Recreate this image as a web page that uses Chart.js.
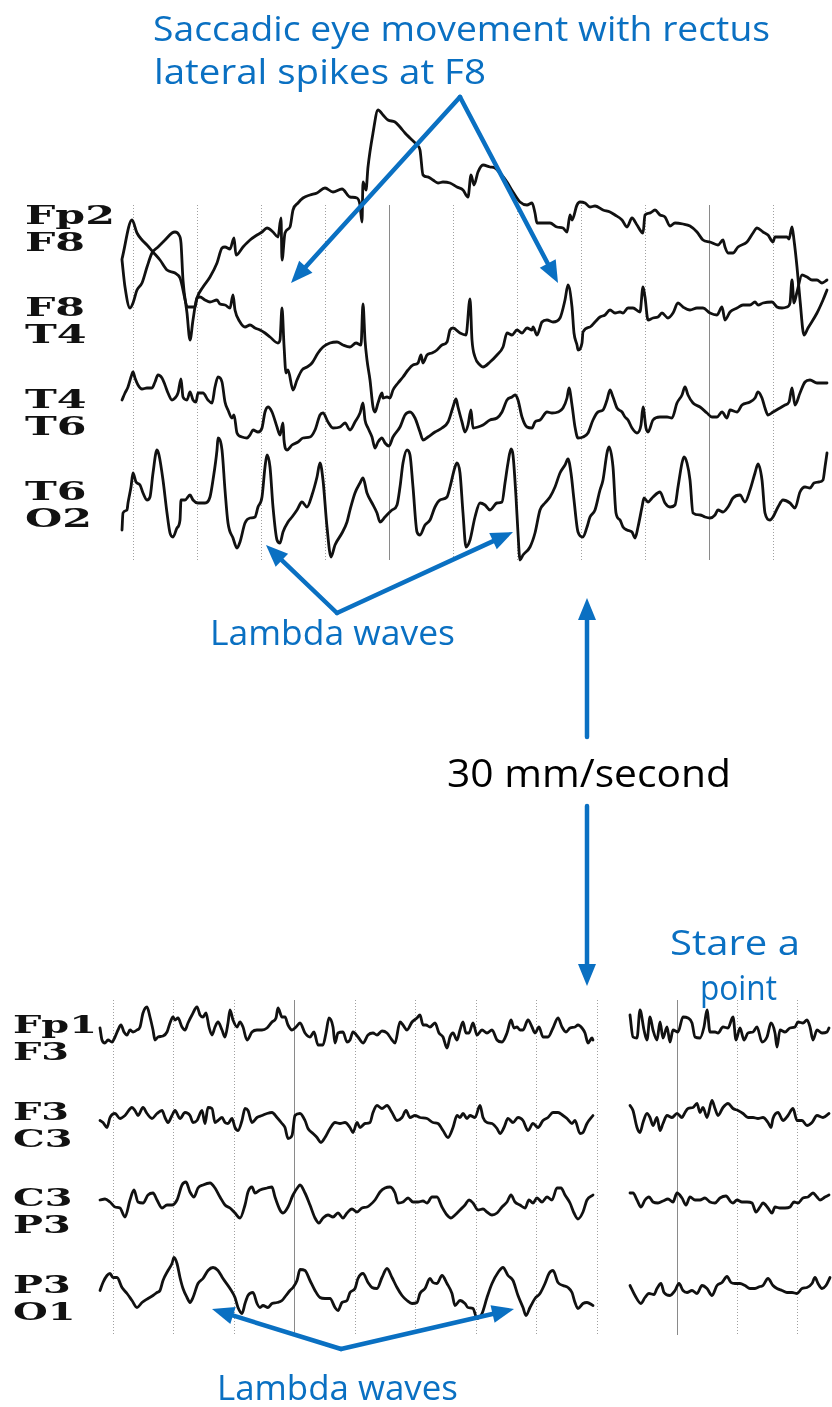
<!DOCTYPE html>
<html>
<head>
<meta charset="utf-8">
<script src="https://cdn.jsdelivr.net/npm/chart.js@4"></script>
<style>
  html, body { margin: 0; background: #fff; }
  #page { position: relative; width: 832px; height: 1407px; overflow: hidden; }
  canvas { position: absolute; }
  #upper { left: 0; top: 95px; }
  #lowerA { left: 0; top: 990px; }
  #lowerB { left: 600px; top: 990px; }
  #notes { position: absolute; left: 0; top: 0; }
</style>
</head>
<body>
<div id="page">
  <canvas id="upper" width="832" height="480"></canvas>
  <canvas id="lowerA" width="600" height="350"></canvas>
  <canvas id="lowerB" width="232" height="350"></canvas>
  <svg id="notes" width="832" height="1407" font-family="'Open Sans', sans-serif">
    <g fill="#0a70c2" font-size="34">
      <text x="153" y="41" textLength="617" lengthAdjust="spacingAndGlyphs">Saccadic eye movement with rectus</text>
      <text x="154" y="84" textLength="332" lengthAdjust="spacingAndGlyphs">lateral spikes at F8</text>
      <text x="210" y="645" textLength="245" lengthAdjust="spacingAndGlyphs">Lambda waves</text>
      <text x="670" y="955" textLength="130" lengthAdjust="spacingAndGlyphs">Stare a</text>
      <text x="700" y="1000" textLength="77" lengthAdjust="spacingAndGlyphs">point</text>
      <text x="217" y="1400" textLength="241" lengthAdjust="spacingAndGlyphs">Lambda waves</text>
    </g>
    <text x="447" y="787" font-size="38" fill="#000" textLength="284" lengthAdjust="spacingAndGlyphs">30 mm/second</text>
    <g id="arrows" fill="#0a70c2" stroke="#0a70c2"></g>
  </svg>
</div>
<script>
// channel names, two electrodes per bipolar derivation
const upperChannels = [["Fp2", "F8"], ["F8", "T4"], ["T4", "T6"], ["T6", "O2"]];
const lowerChannels = [["Fp1", "F3"], ["F3", "C3"], ["C3", "P3"], ["P3", "O1"]];

// traces are [sample, µV] pairs
const UPPER_RATE = 64;   // samples per second, upper page
const LOWER_RATE = 60.5; // lower page, free viewing
const STARE_RATE = 60;   // lower page, staring at a point

// upper page: saccades
const fp2F8 = [[2,-31],[12,8],[17,-5],[22,-12],[27,-17],[33,-24],[40,-32],[47,-42],[55,-45],[60,-50],[68,-79],[75,-79],[77,-70],[83,-59],[90,-49],[97,-35],[102,-20],[105,-19],[110,-21],[114,-10],[116,-27],[123,-19],[130,-12],[137,-7],[142,-4],[147,0],[153,-4],[158,-9],[161,10],[162,-32],[165,-5],[170,1],[173,18],[178,25],[183,30],[190,33],[197,35],[205,40],[213,36],[222,39],[230,31],[237,30],[240,23],[242,6],[243,46],[246,38],[248,61],[253,95],[258,118],[263,113],[268,108],[275,106],[280,101],[285,95],[290,90],[297,83],[300,78],[303,53],[308,51],[313,48],[318,45],[323,46],[330,45],[337,41],[343,38],[348,31],[351,53],[354,43],[358,56],[363,63],[370,61],[375,60],[380,55],[387,46],[393,36],[400,26],[407,23],[412,25],[415,15],[417,5],[423,5],[430,5],[437,1],[443,0],[447,-4],[450,13],[452,8],[457,23],[460,26],[465,25],[470,21],[475,22],[483,18],[490,16],[495,13],[502,8],[507,1],[512,10],[517,3],[523,-5],[525,13],[530,15],[535,18],[540,13],[545,11],[550,2],[555,5],[563,4],[570,2],[577,-4],[583,-12],[590,-14],[598,-17],[603,-12],[605,-19],[608,-25],[613,-25],[618,-19],[627,-14],[633,-5],[637,0],[643,-4],[648,-7],[653,-14],[655,-9],[660,-9],[667,-9],[669,-11],[672,1],[674,-12],[677,-39],[680,-72],[684,-107],[688,-100],[697,-85],[703,-72],[707,-62]];
const f8T4 = [[2,60],[5,33],[10,12],[13,17],[17,30],[22,37],[27,53],[32,67],[38,73],[45,80],[52,87],[55,88],[59,85],[61,77],[63,40],[67,7],[70,-20],[73,0],[77,22],[80,23],[85,20],[90,18],[97,20],[100,16],[105,15],[110,12],[113,25],[115,10],[120,-2],[125,-7],[130,-5],[135,-8],[140,-10],[145,-13],[150,-17],[158,-23],[160,-20],[162,12],[164,-25],[166,-53],[168,-50],[173,-70],[177,-60],[182,-50],[187,-47],[192,-43],[198,-33],[203,-27],[210,-23],[217,-22],[223,-25],[230,-27],[236,-23],[241,-25],[243,16],[245,-20],[247,-40],[250,-60],[253,-87],[255,-92],[258,-83],[262,-73],[263,-78],[267,-77],[270,-78],[273,-70],[278,-63],[283,-57],[288,-50],[293,-45],[298,-43],[301,-35],[303,-43],[307,-35],[312,-33],[317,-30],[322,-25],[327,-22],[330,-10],[333,-8],[340,-13],[346,-15],[350,21],[352,-20],[355,-37],[360,-45],[363,-47],[370,-42],[377,-35],[383,-27],[387,-13],[392,-15],[397,-10],[402,-13],[407,-8],[412,-10],[413,-7],[417,-15],[422,-2],[427,0],[433,-2],[440,2],[445,20],[448,35],[452,13],[454,-13],[457,-25],[458,-30],[462,-23],[463,-12],[470,-7],[475,-2],[480,3],[485,5],[490,10],[495,7],[500,8],[503,7],[508,12],[513,12],[520,8],[523,33],[525,23],[528,0],[533,2],[538,3],[542,7],[548,2],[553,7],[558,17],[563,13],[570,10],[577,12],[583,12],[590,7],[597,5],[602,13],[605,0],[610,8],[617,12],[623,15],[630,15],[635,18],[638,15],[643,17],[652,18],[657,13],[662,12],[667,13],[670,17],[672,40],[674,17],[677,28],[682,45],[687,43],[692,40],[697,40],[702,37],[707,40]];
const t4T6 = [[2,12],[5,19],[8,25],[11,35],[13,40],[15,34],[18,27],[22,23],[27,24],[32,24],[35,30],[38,37],[42,34],[45,27],[48,19],[52,12],[55,14],[58,19],[61,33],[63,15],[67,12],[70,20],[73,12],[76,10],[78,19],[83,19],[88,12],[92,9],[95,25],[98,35],[102,30],[105,10],[108,2],[112,-6],[114,-3],[117,-21],[122,-25],[127,-26],[130,-23],[133,-18],[138,-20],[142,-16],[145,0],[148,5],[152,0],[157,-15],[160,-23],[163,-11],[164,-28],[167,-38],[172,-33],[178,-30],[183,-26],[190,-25],[195,-18],[200,-3],[203,-1],[208,-10],[213,-16],[220,-15],[225,-11],[230,-18],[235,-10],[240,-1],[243,9],[245,-8],[248,-16],[252,-25],[255,-36],[258,-30],[262,-26],[265,-31],[269,-34],[273,-25],[280,-15],[285,-3],[290,0],[295,-6],[300,-20],[303,-28],[308,-25],[315,-20],[322,-16],[328,-10],[333,5],[336,13],[338,5],[342,-10],[345,-20],[348,-13],[351,2],[353,-16],[358,-15],[363,-13],[370,-8],[377,-6],[382,0],[387,12],[392,15],[395,17],[398,12],[402,-5],[407,-15],[412,-16],[415,-10],[420,-8],[427,0],[432,-1],[438,0],[443,4],[447,14],[449,24],[452,7],[455,-15],[458,-26],[463,-25],[468,-21],[473,-8],[478,0],[483,2],[487,12],[490,22],[493,15],[497,4],[502,0],[505,-5],[508,-8],[512,-16],[517,-21],[521,-13],[523,5],[526,-16],[528,-20],[533,-8],[540,-5],[547,-5],[552,-6],[557,9],[562,17],[565,25],[568,17],[573,9],[580,5],[587,-1],[592,-5],[597,-5],[602,0],[607,-6],[610,2],[617,0],[622,7],[630,10],[635,14],[638,20],[642,14],[645,4],[648,-3],[653,0],[660,4],[665,7],[669,10],[672,24],[675,7],[680,19],[685,30],[690,32],[697,29],[703,29],[707,29]];
const t6O2 = [[2,-26],[3,-9],[7,-6],[8,1],[11,17],[13,31],[16,22],[20,19],[23,11],[27,4],[30,7],[33,31],[37,54],[39,49],[43,24],[47,-9],[50,-29],[53,-33],[57,-24],[60,-16],[61,4],[65,4],[70,9],[73,4],[78,1],[85,1],[90,7],[93,24],[97,54],[98,66],[102,54],[105,14],[108,-19],[113,-34],[117,-44],[120,-38],[125,-19],[130,-14],[135,-13],[138,-3],[142,7],[145,37],[147,49],[150,37],[153,-3],[157,-36],[160,-39],[163,-28],[168,-18],[172,-13],[177,-6],[182,2],[187,-3],[192,9],[197,27],[200,41],[203,24],[207,-23],[211,-53],[215,-41],[222,-29],[227,-18],[230,-6],[235,11],[240,21],[243,26],[247,11],[252,1],[257,-9],[260,-18],[265,-13],[272,-6],[277,-1],[280,17],[283,41],[287,54],[290,49],[293,17],[297,-28],[300,-31],[305,-21],[310,-16],[315,-3],[320,4],[327,7],[330,17],[335,37],[337,41],[340,31],[343,-9],[346,-43],[350,-36],[355,-13],[360,1],[365,-1],[370,-6],[377,1],[382,2],[385,21],[388,41],[391,55],[393,49],[396,7],[398,-29],[400,-56],[403,-51],[410,-43],[415,-29],[420,-6],[425,1],[430,7],[435,17],[440,31],[445,39],[448,45],[451,31],[454,4],[458,-28],[463,-33],[467,-23],[470,-13],[475,-6],[480,14],[483,24],[487,51],[489,57],[493,37],[496,-9],[500,-16],[503,-23],[507,-26],[512,-28],[515,-34],[518,-23],[522,-3],[524,6],[528,2],[533,7],[540,12],[545,1],[550,-3],[555,-1],[558,17],[562,41],[564,47],[567,41],[570,24],[573,-9],[580,-11],[585,-13],[590,-14],[595,-11],[598,-6],[603,-8],[608,-3],[613,6],[620,9],[625,2],[630,14],[635,31],[638,40],[642,24],[645,-9],[650,-16],[653,-13],[658,-3],[663,4],[670,1],[675,-4],[680,12],[685,17],[690,16],[694,21],[699,22],[703,24],[705,37],[707,51]];

// lower page, free viewing
const fp1F3 = [[0,10],[2,-2],[5,-5],[8,-2],[12,-4],[15,1],[18,8],[21,13],[24,6],[27,3],[30,8],[33,6],[37,8],[40,11],[43,25],[47,31],[50,21],[53,8],[55,-2],[58,1],[63,2],[67,6],[70,15],[73,21],[75,18],[78,20],[82,11],[85,8],[88,15],[92,23],[97,31],[100,23],[103,21],[106,25],[109,11],[112,3],[115,11],[118,16],[122,8],[125,1],[128,15],[130,28],[133,18],[137,11],[140,16],[143,11],[147,-2],[152,6],[157,8],[162,8],[167,10],[172,16],[176,20],[178,30],[182,21],[185,21],[188,13],[192,8],[196,11],[200,15],[205,5],[210,1],[214,6],[218,-7],[223,-7],[226,5],[229,20],[233,11],[235,-5],[238,5],[243,6],[247,-4],[250,-2],[253,6],[258,1],[263,-5],[268,3],[273,5],[277,3],[282,7],[287,5],[292,-2],[295,-5],[300,16],[303,13],[307,8],[312,16],[317,20],[320,23],[323,13],[326,13],[330,11],[335,15],[339,5],[343,1],[347,-10],[350,1],[353,5],[357,-2],[360,8],[363,16],[366,5],[369,5],[373,15],[377,3],[382,8],[387,5],[392,8],[397,-2],[402,-4],[407,5],[411,18],[414,10],[417,11],[420,8],[423,8],[428,18],[432,11],[435,5],[439,11],[443,1],[448,1],[453,10],[458,20],[462,11],[466,6],[470,10],[475,11],[478,13],[482,10],[485,5],[488,-5],[492,0],[493,-2]];
const f3C3 = [[0,4],[3,2],[7,-3],[10,7],[15,11],[20,6],[25,9],[32,17],[35,14],[38,9],[43,17],[47,11],[52,6],[57,11],[62,14],[65,7],[68,2],[72,9],[75,14],[80,6],[85,12],[90,9],[93,2],[97,4],[102,14],[105,1],[108,17],[112,16],[115,2],[118,4],[122,7],[125,2],[128,1],[132,6],[135,-3],[138,-6],[142,4],[145,16],[148,14],[152,2],[157,7],[162,9],[167,11],[172,12],[177,7],[182,1],[185,-3],[188,-14],[192,-11],[195,9],[200,11],[205,4],[208,-4],[213,-9],[217,-13],[221,-18],[225,-13],[230,-4],[235,2],[240,1],[245,2],[250,-3],[253,-8],[257,2],[260,-3],[265,1],[270,2],[273,12],[277,19],[282,16],[287,19],[292,12],[297,4],[302,7],[306,14],[310,7],[315,9],[320,7],[327,6],[333,2],[338,1],[343,-6],[348,-13],[353,-3],[357,9],[360,7],[363,11],[367,6],[370,9],[375,7],[380,19],[383,7],[387,2],[392,1],[397,-4],[400,-9],[404,-3],[408,6],[413,2],[418,7],[423,4],[428,-6],[433,1],[438,-3],[443,4],[448,7],[453,12],[458,12],[463,9],[467,6],[472,1],[475,4],[480,-9],[483,-8],[487,1],[493,9]];
const c3P3 = [[0,11],[5,12],[10,9],[15,4],[20,3],[25,-6],[30,11],[34,21],[38,9],[43,8],[48,16],[53,18],[57,11],[62,3],[67,6],[72,6],[77,11],[82,26],[86,29],[90,19],[94,14],[98,23],[103,26],[110,28],[115,23],[120,14],[125,6],[130,3],[135,-2],[140,-7],[145,6],[148,19],[152,24],[155,18],[160,21],[167,23],[172,24],[175,14],[180,1],[183,-2],[188,4],[193,16],[198,24],[200,26],[205,18],[210,6],[215,-7],[219,-12],[223,-7],[228,-4],[233,-6],[238,-2],[243,-7],[247,-2],[252,2],[257,-1],[262,3],[267,4],[270,6],[275,11],[280,19],[285,23],[290,24],[295,18],[298,8],[303,9],[308,13],[313,9],[318,9],[323,10],[327,8],[332,14],[337,14],[342,4],[347,-4],[351,-7],[355,-4],[360,1],[365,6],[369,11],[373,8],[378,1],[383,2],[387,-1],[392,-4],[397,-2],[402,4],[407,9],[411,16],[415,9],[420,6],[425,3],[429,11],[433,8],[437,13],[442,9],[447,14],[452,11],[457,23],[461,23],[465,16],[470,8],[474,-2],[478,-8],[483,-1],[487,11],[493,16]];
const p3O1 = [[0,7],[3,15],[7,22],[10,24],[13,20],[17,20],[22,10],[27,4],[32,-3],[37,-10],[42,-5],[48,-1],[53,2],[57,5],[60,7],[63,17],[68,27],[72,34],[74,40],[77,34],[80,20],[83,9],[87,0],[90,-5],[93,0],[98,14],[103,19],[108,27],[113,30],[118,27],[123,19],[130,9],[135,0],[138,-10],[142,-16],[145,-6],[148,2],[153,5],[157,-6],[160,-10],[163,-8],[168,-10],[172,-6],[177,-5],[182,-3],[186,2],[190,7],[193,10],[197,17],[200,28],[205,27],[210,17],[215,7],[220,0],[225,-1],[230,-1],[235,-10],[238,-13],[242,-5],[247,-3],[250,5],[255,9],[258,19],[263,24],[268,15],[272,10],[277,9],[282,20],[287,29],[292,20],[297,10],[302,2],[307,-3],[312,-6],[317,-5],[320,4],[325,9],[330,19],[333,15],[337,14],[342,22],[347,14],[352,4],[355,-8],[360,-3],[365,-6],[368,-10],[373,-11],[377,-21],[382,-16],[387,0],[392,14],[398,25],[403,30],[408,22],[413,17],[418,2],[423,-10],[426,-18],[430,-10],[435,-1],[440,4],[445,14],[449,24],[453,27],[458,15],[463,12],[468,10],[472,5],[475,-5],[478,-11],[483,-6],[487,-5],[493,-8]];

// lower page, staring at a point
const fp1F3Stare = [[2,23],[5,1],[9,0],[12,28],[16,8],[19,-2],[22,21],[25,8],[29,-2],[32,16],[35,0],[39,11],[42,-4],[45,8],[50,6],[55,21],[60,20],[64,15],[67,1],[72,0],[76,11],[79,28],[82,6],[87,6],[90,5],[95,11],[100,10],[105,21],[108,-2],[112,10],[116,-2],[120,5],[125,6],[129,11],[134,-4],[139,1],[143,15],[147,5],[149,-9],[152,8],[157,6],[162,10],[167,11],[170,16],[175,15],[179,18],[182,11],[185,-2],[189,8],[194,5],[199,6],[201,10]];
const f3C3Stare = [[2,19],[5,14],[9,-3],[12,-8],[15,2],[19,11],[22,7],[25,-1],[29,7],[32,-6],[35,1],[39,9],[44,7],[49,11],[54,7],[57,12],[60,16],[65,17],[69,21],[72,12],[75,17],[79,7],[84,24],[87,16],[90,9],[95,17],[100,21],[105,16],[110,14],[115,11],[120,7],[125,7],[130,6],[135,7],[140,2],[143,-3],[145,6],[150,12],[155,4],[160,9],[165,16],[169,4],[174,4],[179,-1],[184,2],[189,9],[195,7],[201,11]];
const c3P3Stare = [[2,18],[5,18],[9,11],[13,4],[17,11],[21,14],[25,9],[30,8],[35,10],[40,12],[45,9],[49,18],[54,13],[58,6],[62,14],[67,11],[72,11],[77,13],[82,9],[87,8],[92,13],[98,15],[103,9],[105,8],[109,11],[114,9],[119,9],[124,8],[128,-1],[132,4],[135,8],[140,3],[144,-2],[147,4],[152,3],[157,3],[162,4],[166,9],[170,8],[175,13],[180,14],[185,18],[189,14],[192,11],[197,14],[201,16]];
const p3O1Stare = [[2,12],[7,2],[13,-6],[17,0],[21,4],[26,3],[29,9],[33,14],[36,5],[42,2],[47,7],[51,14],[55,7],[59,5],[64,7],[69,4],[74,12],[79,9],[84,2],[89,12],[94,15],[99,21],[103,15],[107,14],[112,14],[117,12],[122,9],[127,9],[132,11],[135,12],[140,19],[145,12],[149,9],[154,7],[159,5],[164,5],[169,4],[174,9],[179,10],[184,14],[187,20],[190,14],[194,9],[198,12],[202,20]];

// ---- drawing ----

// two-line derivation names at each channel baseline, stretched like the chart paper print
const channelLabels = {
  id: 'channelLabels',
  afterDraw(chart, args, opts) {
    if (!opts.names) return;
    const ctx = chart.ctx;
    const y = chart.scales.y;
    ctx.save();
    ctx.font = `bold ${opts.size}px "DejaVu Serif"`;
    ctx.fillStyle = '#111';
    ctx.textBaseline = 'alphabetic';
    const sx = opts.width / ctx.measureText(opts.names[0][0]).width;
    const half = opts.size * 0.36;
    opts.names.forEach((pair, i) => {
      const yc = y.getPixelForValue(opts.offsets[i]);
      ctx.save();
      ctx.translate(opts.x, yc);
      ctx.scale(sx, 1);
      ctx.fillText(pair[0], 0, -13.5 + half);
      ctx.fillText(pair[1], 0, 13.5 + half);
      ctx.restore();
    });
    ctx.restore();
  }
};

function eegChart(id, cfg) {
  const datasets = cfg.traces.map((trace, i) => ({
    data: trace.map(([s, v]) => ({ x: s / cfg.rate, y: cfg.offsets[i] + v })),
    borderColor: '#111',
    borderWidth: 2.8,
    borderJoinStyle: 'round',
    borderCapStyle: 'round',
    pointRadius: 0,
    cubicInterpolationMode: 'monotone',
    clip: false
  }));

  return new Chart(document.getElementById(id), {
    type: 'line',
    data: { datasets },
    options: {
      responsive: false,
      animation: false,
      events: [],
      layout: { padding: cfg.padding },
      plugins: {
        legend: { display: false },
        tooltip: { enabled: false },
        channelLabels: cfg.labels || {}
      },
      scales: {
        x: {
          type: 'linear',
          min: 0,
          max: cfg.width / cfg.rate,
          afterBuildTicks: scale => {
            // one dotted line per second, starting at the first second mark
            const marks = [];
            for (let k = 0; (cfg.firstMark + k * cfg.rate) <= cfg.width; k++) {
              marks.push({ value: (cfg.firstMark + k * cfg.rate) / cfg.rate });
            }
            scale.ticks = marks;
          },
          ticks: { display: false },
          grid: {
            drawTicks: false,
            lineWidth: 1,
            color: c => cfg.major.includes(c.index) ? '#8a8a8a' : '#a0a0a0'
          },
          border: {
            display: false,
            dash: c => cfg.major.includes(c.index) ? [] : [1, 2]
          }
        },
        y: { display: false, min: cfg.yMin, max: cfg.yMax }
      }
    },
    plugins: [channelLabels]
  });
}

const upperOffsets = [0, -92, -184, -276];
const lowerOffsets = [0, -86.5, -173, -259.5];

eegChart('upper', {
  traces: [fp2F8, f8T4, t4T6, t6O2],
  rate: UPPER_RATE,
  offsets: upperOffsets,
  width: 712,
  firstMark: 13,
  major: [4, 9],
  yMin: -332, yMax: 23,
  padding: { left: 120, right: 0, top: 110, bottom: 15 },
  labels: { names: upperChannels, offsets: upperOffsets, x: 25, width: 90, size: 26 }
});

eegChart('lowerA', {
  traces: [fp1F3, f3C3, c3P3, p3O1],
  rate: LOWER_RATE,
  offsets: lowerOffsets,
  width: 500,
  firstMark: 13,
  major: [3],
  yMin: -297, yMax: 38,
  padding: { left: 100, right: 0, top: 10, bottom: 5 },
  labels: { names: lowerChannels, offsets: lowerOffsets, x: 13, width: 84, size: 24 }
});

eegChart('lowerB', {
  traces: [fp1F3Stare, f3C3Stare, c3P3Stare, p3O1Stare],
  rate: STARE_RATE,
  offsets: lowerOffsets,
  width: 204,
  firstMark: 49,
  major: [0],
  yMin: -297, yMax: 38,
  padding: { left: 28, right: 0, top: 10, bottom: 5 }
});

// callout arrows: [fromX, fromY, tipX, tipY]
const arrows = [
  [460, 97, 291, 283], [460, 97, 558, 283],
  [337, 613, 266, 545], [337, 613, 513, 532],
  [587, 737, 587, 598], [587, 806, 587, 986],
  [341, 1349, 212, 1309], [341, 1349, 514, 1309]
];

const NS = 'http://www.w3.org/2000/svg';
const arrowLayer = document.getElementById('arrows');
arrows.forEach(([x1, y1, x2, y2]) => {
  const len = Math.hypot(x2 - x1, y2 - y1);
  const ux = (x2 - x1) / len, uy = (y2 - y1) / len;
  const headLen = 22, headHalf = 9;
  const bx = x2 - ux * headLen, by = y2 - uy * headLen;

  const shaft = document.createElementNS(NS, 'line');
  shaft.setAttribute('x1', x1); shaft.setAttribute('y1', y1);
  shaft.setAttribute('x2', bx + ux * 2); shaft.setAttribute('y2', by + uy * 2);
  shaft.setAttribute('stroke-width', 4.5);
  shaft.setAttribute('stroke-linecap', 'round');
  arrowLayer.appendChild(shaft);

  const head = document.createElementNS(NS, 'polygon');
  head.setAttribute('points', [
    [x2, y2],
    [bx - uy * headHalf, by + ux * headHalf],
    [bx + uy * headHalf, by - ux * headHalf]
  ].map(p => p.join(',')).join(' '));
  head.setAttribute('stroke', 'none');
  arrowLayer.appendChild(head);
});
</script>
</body>
</html>
